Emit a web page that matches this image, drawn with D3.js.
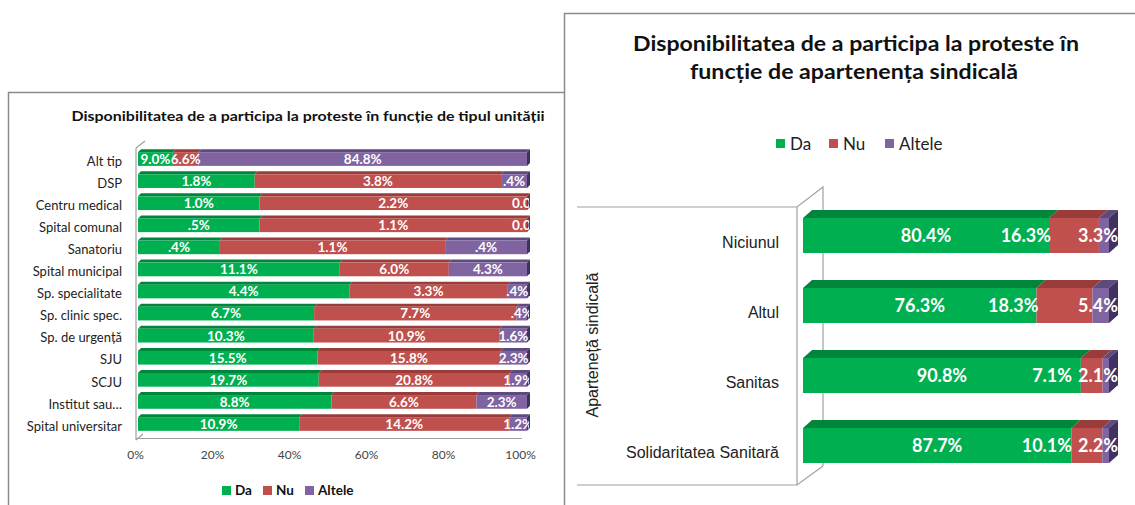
<!DOCTYPE html>
<html><head><meta charset="utf-8">
<script src="https://cdn.jsdelivr.net/npm/d3@7/dist/d3.min.js"></script>
<style>
html,body{margin:0;padding:0;background:#fff;}
svg{display:block;}
</style></head>
<body>
<script>
// ---------- data ----------
const seriesNames = ["Da", "Nu", "Altele"];
const leftCats = ["Alt tip","DSP","Centru medical","Spital comunal","Sanatoriu","Spital municipal","Sp. specialitate","Sp. clinic spec.","Sp. de urgență","SJU","SCJU","Institut sau…","Spital universitar"];
const leftDa     = [9.0, 1.8, 1.0, 0.5, 0.4, 11.1, 4.4, 6.7, 10.3, 15.5, 19.7, 8.8, 10.9];
const leftNu     = [6.6, 3.8, 2.2, 1.1, 1.1, 6.0, 3.3, 7.7, 10.9, 15.8, 20.8, 6.6, 14.2];
const leftAltele = [84.8, 0.4, 0.0, 0.0, 0.4, 4.3, 0.4, 0.4, 1.6, 2.3, 1.9, 2.3, 1.2];
const leftTicks  = [0, 0.2, 0.4, 0.6, 0.8, 1.0];
const leftTitle  = "Disponibilitatea de a participa la proteste în funcție de tipul unității";

const rightCats   = ["Niciunul", "Altul", "Sanitas", "Solidaritatea Sanitară"];
const rightDa     = [80.4, 76.3, 90.8, 87.7];
const rightNu     = [16.3, 18.3, 7.1, 10.1];
const rightAltele = [3.3, 5.4, 2.1, 2.2];
const rightTitle  = ["Disponibilitatea de a participa la proteste în", "funcție de apartenența sindicală"];
const rightAxisTitle = "Aparteneță sindicală";

// ---------- styles ----------
const front = {Da:"#00B050", Nu:"#C0504D", Altele:"#8064A2"};
const top_  = {Da:"#00863B", Nu:"#9A3C39", Altele:"#5F4A80"};
const side  = {Da:"#00702F", Nu:"#7E302E", Altele:"#3F3160"};
const FONT = "Lato, 'Open Sans', sans-serif";
const ARIAL = "'Liberation Sans', Arial, sans-serif";

const W = 1135, H = 505;
const svg = d3.select("body").append("svg").attr("width", W).attr("height", H);
svg.append("rect").attr("width", W).attr("height", H).attr("fill", "#fff");

function fmt(v){
  if (v === 0) return "0.0%";
  const s = v.toFixed(1);
  return (v < 1 ? s.replace(/^0/, "") : s) + "%";
}
function rows(cats, da, nu, al){
  return cats.map((c,i)=>({cat:c, Da:da[i], Nu:nu[i], Altele:al[i]}));
}
const stackGen = d3.stack().keys(seriesNames).offset(d3.stackOffsetExpand);

function drawBars(g, data, x, y, dx, dy){
  const stacked = stackGen(data);
  data.forEach((d,i)=>{
    const yy = y(d.cat), h = y.bandwidth();
    const segs = stacked.map(s=>({key:s.key, x0:x(s[i][0]), x1:x(s[i][1]), v:d[s.key]}));
    const row = g.append("g");
    segs.forEach(s=>{
      if (s.x1 - s.x0 <= 0) return;
      row.append("path")
        .attr("d", `M${s.x0},${yy} L${s.x0+dx},${yy+dy} L${s.x1+dx},${yy+dy} L${s.x1},${yy} Z`)
        .attr("fill", top_[s.key]);
      row.append("rect").attr("x", s.x0).attr("y", yy).attr("width", s.x1 - s.x0).attr("height", h)
        .attr("fill", front[s.key]);
    });
    const last = segs.filter(s=>s.x1 - s.x0 > 0).pop();
    const xe = last.x1;
    row.append("path")
      .attr("d", `M${xe},${yy} L${xe+dx},${yy+dy} L${xe+dx},${yy+dy+h} L${xe},${yy+h} Z`)
      .attr("fill", side[last.key]);
    d._segs = segs;
  });
  return stacked;
}

// ================= LEFT CHART =================
(function(){
  const gL = svg.append("g");
  gL.append("rect").attr("x", 8.5).attr("y", 92.5).attr("width", 556.5).attr("height", 430)
    .attr("fill", "#fff").attr("stroke", "#8a8a8a").attr("stroke-width", 1.5);
  gL.append("text").attr("x", 308).attr("y", 121).attr("text-anchor", "middle")
    .attr("font-family", FONT).attr("font-weight", "bold").attr("font-size", 13)
    .attr("textLength", 473).attr("lengthAdjust", "spacingAndGlyphs")
    .attr("fill", "#111").text(leftTitle);

  const data = rows(leftCats, leftDa, leftNu, leftAltele);
  const x = d3.scaleLinear().domain([0,1]).range([138, 527]);
  const xAxisScale = d3.scaleLinear().domain([0,1]).range([135, 520]);
  const y = d3.scaleBand().domain(leftCats).range([148, 148 + 13*22.08]).paddingInner(0.38).paddingOuter(0.19);
  const dx = 3, dy = -3;

  const wall = gL.append("g").attr("stroke", "#a0a0a0").attr("stroke-width", 1.2).attr("fill", "none");
  wall.append("path").attr("d", "M136,148 L145,141");
  wall.append("path").attr("d", "M136,148 L136,440");
  wall.append("path").attr("d", "M136,440 L143,434");
  wall.append("path").attr("d", "M136,438.5 L522,438.5");

  drawBars(gL, data, x, y, dx, dy);

  gL.append("clipPath").attr("id", "clipL").append("rect")
    .attr("x", 130).attr("y", 130).attr("width", x(1) + 2 - 130).attr("height", 320);
  const lab = gL.append("g").attr("clip-path", "url(#clipL)");
  data.forEach(d=>{
    const cy = y(d.cat) + y.bandwidth()/2;
    d._segs.forEach(s=>{
      lab.append("text").attr("x", (s.x0 + s.x1)/2).attr("y", cy).attr("dy", "0.36em")
        .attr("text-anchor", "middle").attr("font-family", FONT).attr("font-weight", "bold")
        .attr("font-size", 13.5).attr("fill", "#fff").text(fmt(s.v));
    });
  });

  gL.append("g").selectAll("text").data(leftCats).join("text")
    .attr("x", 122).attr("y", d=>y(d) + y.bandwidth()/2 + 2).attr("dy", "0.36em")
    .attr("text-anchor", "end").attr("font-family", FONT).attr("font-size", 13)
    .attr("fill", "#222").text(d=>d);

  const ax = gL.append("g").attr("transform", "translate(0,447)")
    .call(d3.axisBottom(xAxisScale).tickValues(leftTicks).tickFormat(d3.format(".0%")).tickSize(0));
  ax.select(".domain").remove();
  ax.selectAll("text").attr("font-family", FONT).attr("font-size", 12).attr("fill", "#444");

  const leg = gL.append("g").attr("font-family", FONT).attr("font-weight", "bold").attr("font-size", 13.5);
  const lx = [222, 263, 305];
  seriesNames.forEach((k,i)=>{
    leg.append("rect").attr("x", lx[i]).attr("y", 486).attr("width", 9).attr("height", 9).attr("fill", front[k]);
    leg.append("text").attr("x", lx[i] + 13).attr("y", 490.5).attr("dy", "0.36em").attr("fill", "#111").text(k);
  });
})();

// ================= RIGHT CHART =================
(function(){
  const gR = svg.append("g");
  gR.append("rect").attr("x", 564.5).attr("y", 13.5).attr("width", 600).attr("height", 520)
    .attr("fill", "#fff").attr("stroke", "#8a8a8a").attr("stroke-width", 1.5);
  gR.append("text").attr("x", 856).attr("y", 51).attr("text-anchor", "middle")
    .attr("font-family", FONT).attr("font-weight", "bold").attr("font-size", 20)
    .attr("textLength", 446).attr("lengthAdjust", "spacingAndGlyphs")
    .attr("fill", "#111").text(rightTitle[0]);
  gR.append("text").attr("x", 854).attr("y", 79).attr("text-anchor", "middle")
    .attr("font-family", FONT).attr("font-weight", "bold").attr("font-size", 20)
    .attr("textLength", 328).attr("lengthAdjust", "spacingAndGlyphs")
    .attr("fill", "#111").text(rightTitle[1]);

  const leg = gR.append("g").attr("font-family", FONT).attr("font-size", 17);
  const lx = [776, 829, 885];
  seriesNames.forEach((k,i)=>{
    leg.append("rect").attr("x", lx[i]).attr("y", 139).attr("width", 9).attr("height", 9).attr("fill", front[k]);
    leg.append("text").attr("x", lx[i] + 14).attr("y", 143.5).attr("dy", "0.36em").attr("fill", "#222").text(k);
  });

  const data = rows(rightCats, rightDa, rightNu, rightAltele);
  const x = d3.scaleLinear().domain([0,1]).range([803, 1109]);
  const y = d3.scaleBand().domain(rightCats).range([200.5, 480.5]).paddingInner(0.5).paddingOuter(0.25);
  const dx = 9, dy = -8;

  const wall = gR.append("g").attr("stroke", "#a0a0a0").attr("stroke-width", 1.2).attr("fill", "none");
  wall.append("path").attr("d", "M577,207 L797,207 L823,187 L823,466");
  wall.append("path").attr("d", "M577,485 L797,485 L823,466");
  wall.append("path").attr("d", "M797,207 L797,485");

  drawBars(gR, data, x, y, dx, dy);

  const lab = gR.append("g").attr("font-family", FONT).attr("font-weight", "bold")
    .attr("font-size", 18).attr("fill", "#fff");
  data.forEach(d=>{
    const cy = y(d.cat) + y.bandwidth()/2;
    const [sDa, sNu, sAl] = d._segs;
    lab.append("text").attr("x", (sDa.x0 + sDa.x1)/2).attr("y", cy).attr("dy", "0.36em")
      .attr("text-anchor", "middle").text(fmt(sDa.v));
    const tAl = lab.append("text").attr("x", sAl.x1 + dx).attr("y", cy).attr("dy", "0.36em")
      .attr("text-anchor", "end").text(fmt(sAl.v));
    const alStart = sAl.x1 + dx - tAl.node().getComputedTextLength();
    lab.append("text").attr("x", Math.min(sNu.x0 + 2, alStart - 6)).attr("y", cy).attr("dy", "0.36em")
      .attr("text-anchor", "end").text(fmt(sNu.v));
  });

  gR.append("g").selectAll("text").data(rightCats).join("text")
    .attr("x", 779).attr("y", d=>y(d) + y.bandwidth()/2 + 7).attr("dy", "0.36em")
    .attr("text-anchor", "end").attr("font-family", ARIAL).attr("font-size", 16)
    .attr("fill", "#222").text(d=>d);

  gR.append("text").attr("transform", "translate(592,345) rotate(-90)")
    .attr("text-anchor", "middle").attr("dy", "0.36em")
    .attr("font-family", ARIAL).attr("font-size", 16).attr("fill", "#222").text(rightAxisTitle);
})();
</script>
</body></html>
